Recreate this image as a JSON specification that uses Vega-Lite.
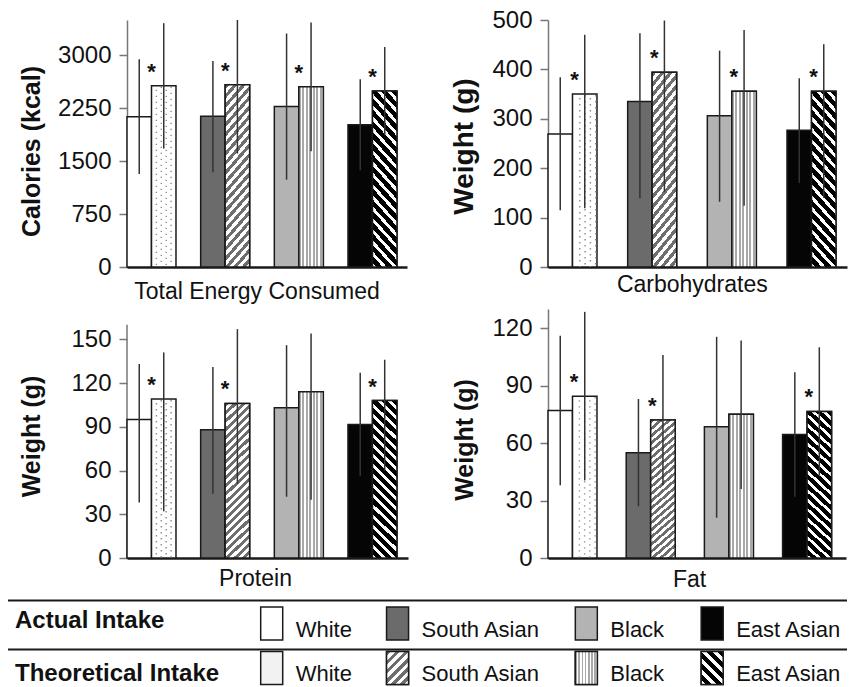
{
"$schema":"https://vega.github.io/schema/vega-lite/v6.json",
"padding":{"left":7,"top":8,"right":0,"bottom":0},
"columns":2,
"spacing":{"row":42,"column":140},
"align":"each",
"bounds":"flush",
"data":{"values":[
{"p":"E","race":"White","intake":"Actual","mean":2130,"low":1318,"high":2943,"sig":false},
{"p":"E","race":"White","intake":"Theoretical","mean":2570,"low":1678,"high":3455,"sig":true},
{"p":"E","race":"South Asian","intake":"Actual","mean":2137,"low":1341,"high":2920,"sig":false},
{"p":"E","race":"South Asian","intake":"Theoretical","mean":2583,"low":1607,"high":3500,"sig":true},
{"p":"E","race":"Black","intake":"Actual","mean":2275,"low":1237,"high":3308,"sig":false},
{"p":"E","race":"Black","intake":"Theoretical","mean":2555,"low":1640,"high":3465,"sig":true},
{"p":"E","race":"East Asian","intake":"Actual","mean":2015,"low":1371,"high":2659,"sig":false},
{"p":"E","race":"East Asian","intake":"Theoretical","mean":2493,"low":1868,"high":3118,"sig":true},
{"p":"C","race":"White","intake":"Actual","mean":269,"low":115,"high":384,"sig":false},
{"p":"C","race":"White","intake":"Theoretical","mean":350,"low":119,"high":470,"sig":true},
{"p":"C","race":"South Asian","intake":"Actual","mean":335,"low":139,"high":473,"sig":false},
{"p":"C","race":"South Asian","intake":"Theoretical","mean":394,"low":152,"high":499,"sig":true},
{"p":"C","race":"Black","intake":"Actual","mean":306,"low":132,"high":438,"sig":false},
{"p":"C","race":"Black","intake":"Theoretical","mean":356,"low":124,"high":480,"sig":true},
{"p":"C","race":"East Asian","intake":"Actual","mean":277,"low":170,"high":382,"sig":false},
{"p":"C","race":"East Asian","intake":"Theoretical","mean":356,"low":140,"high":451,"sig":true},
{"p":"P","race":"White","intake":"Actual","mean":95,"low":38,"high":133,"sig":false},
{"p":"P","race":"White","intake":"Theoretical","mean":109,"low":32,"high":141,"sig":true},
{"p":"P","race":"South Asian","intake":"Actual","mean":88,"low":44,"high":131,"sig":false},
{"p":"P","race":"South Asian","intake":"Theoretical","mean":106,"low":51,"high":157,"sig":true},
{"p":"P","race":"Black","intake":"Actual","mean":103,"low":42,"high":146,"sig":false},
{"p":"P","race":"Black","intake":"Theoretical","mean":114,"low":40,"high":154,"sig":false},
{"p":"P","race":"East Asian","intake":"Actual","mean":91.5,"low":56,"high":127,"sig":false},
{"p":"P","race":"East Asian","intake":"Theoretical","mean":108,"low":60,"high":136,"sig":true},
{"p":"F","race":"White","intake":"Actual","mean":77,"low":38,"high":116,"sig":false},
{"p":"F","race":"White","intake":"Theoretical","mean":84.5,"low":40.5,"high":128.5,"sig":true},
{"p":"F","race":"South Asian","intake":"Actual","mean":55,"low":27,"high":83,"sig":false},
{"p":"F","race":"South Asian","intake":"Theoretical","mean":72,"low":38,"high":106,"sig":true},
{"p":"F","race":"Black","intake":"Actual","mean":68.5,"low":21,"high":115.5,"sig":false},
{"p":"F","race":"Black","intake":"Theoretical","mean":75,"low":36,"high":113.5,"sig":false},
{"p":"F","race":"East Asian","intake":"Actual","mean":64.5,"low":32,"high":97,"sig":false},
{"p":"F","race":"East Asian","intake":"Theoretical","mean":76.5,"low":43,"high":110,"sig":true}
]},
"concat":[
{
"width":280,"height":247,
"transform":[{"filter":"datum.p=='E'"}],
"encoding":{
"x":{"field":"race","type":"nominal","scale":{"domain":["White","South Asian","Black","East Asian"],"paddingInner":0.335,"paddingOuter":0.068,"align":0},"axis":{"title":"Total Energy Consumed","titleX":129.5,"titlePadding":13}},
"y":{"field":"mean","type":"quantitative","scale":{"domain":[0,3500],"nice":false},"axis":{"title":"Calories (kcal)","values":[0,750,1500,2250,3000],"format":"d","titleX":-96,"titleY":131}}
},
"layer":[
{"mark":{"type":"bar","stroke":"#1a1a1a","strokeWidth":1.5},"encoding":{"xOffset":{"field":"intake","type":"nominal","scale":{"domain":["Actual","Theoretical"],"paddingInner":0,"paddingOuter":0}},"fill":{"condition":[{"test":"datum.intake=='Actual' && datum.race=='South Asian'","value":"#6b6b6b"},{"test":"datum.intake=='Actual' && datum.race=='Black'","value":"#b3b3b3"},{"test":"datum.intake=='Actual' && datum.race=='East Asian'","value":"#050505"}],"value":"#ffffff"}}},
{"transform":[{"filter":"datum.intake=='Theoretical' && datum.race=='South Asian'"}],"mark":{"type":"bar","style":"saT","stroke":"#1a1a1a","strokeWidth":1.5},"encoding":{"xOffset":{"field":"intake","type":"nominal","scale":{"domain":["Actual","Theoretical"],"paddingInner":0,"paddingOuter":0}}}},
{"transform":[{"filter":"datum.intake=='Theoretical' && datum.race=='Black'"}],"mark":{"type":"bar","style":"blT","stroke":"#1a1a1a","strokeWidth":1.5},"encoding":{"xOffset":{"field":"intake","type":"nominal","scale":{"domain":["Actual","Theoretical"],"paddingInner":0,"paddingOuter":0}}}},
{"transform":[{"filter":"datum.intake=='Theoretical' && datum.race=='East Asian'"}],"mark":{"type":"bar","style":"eaT","stroke":"#1a1a1a","strokeWidth":1.5},"encoding":{"xOffset":{"field":"intake","type":"nominal","scale":{"domain":["Actual","Theoretical"],"paddingInner":0,"paddingOuter":0}}}},
{"transform":[{"filter":"datum.intake=='Theoretical' && datum.race=='White'"}],"mark":{"type":"rule","stroke":"#8c8c8c","strokeWidth":1.4,"strokeDash":[1.4,4.6],"strokeDashOffset":2},"encoding":{"x":{"field":"race","type":"nominal","bandPosition":0.6,"scale":{"domain":["White","South Asian","Black","East Asian"],"paddingInner":0.335,"paddingOuter":0.068,"align":0}},"y2":{"datum":0}}},
{"transform":[{"filter":"datum.intake=='Theoretical' && datum.race=='White'"}],"mark":{"type":"rule","stroke":"#8c8c8c","strokeWidth":1.4,"strokeDash":[1.4,4.6],"strokeDashOffset":5},"encoding":{"x":{"field":"race","type":"nominal","bandPosition":0.7,"scale":{"domain":["White","South Asian","Black","East Asian"],"paddingInner":0.335,"paddingOuter":0.068,"align":0}},"y2":{"datum":0}}},
{"transform":[{"filter":"datum.intake=='Theoretical' && datum.race=='White'"}],"mark":{"type":"rule","stroke":"#8c8c8c","strokeWidth":1.4,"strokeDash":[1.4,4.6],"strokeDashOffset":2},"encoding":{"x":{"field":"race","type":"nominal","bandPosition":0.8,"scale":{"domain":["White","South Asian","Black","East Asian"],"paddingInner":0.335,"paddingOuter":0.068,"align":0}},"y2":{"datum":0}}},
{"transform":[{"filter":"datum.intake=='Theoretical' && datum.race=='White'"}],"mark":{"type":"rule","stroke":"#8c8c8c","strokeWidth":1.4,"strokeDash":[1.4,4.6],"strokeDashOffset":5},"encoding":{"x":{"field":"race","type":"nominal","bandPosition":0.9,"scale":{"domain":["White","South Asian","Black","East Asian"],"paddingInner":0.335,"paddingOuter":0.068,"align":0}},"y2":{"datum":0}}},
{"mark":{"type":"rule","stroke":"#333333","strokeWidth":1.5},"encoding":{"xOffset":{"field":"intake","type":"nominal","scale":{"domain":["Actual","Theoretical"],"paddingInner":0,"paddingOuter":0}},"y":{"field":"high","type":"quantitative","scale":{"domain":[0,3500],"nice":false},"title":"Calories (kcal)"},"y2":{"field":"low"}}},
{"transform":[{"filter":"datum.sig"}],"mark":{"type":"text","fontSize":22,"fontWeight":"bold","baseline":"alphabetic","dy":-7,"color":"#111111"},"encoding":{"text":{"value":"*"}}}
]
},
{
"width":299,"height":247,
"transform":[{"filter":"datum.p=='C'"}],
"encoding":{
"x":{"field":"race","type":"nominal","scale":{"domain":["White","South Asian","Black","East Asian"],"paddingInner":0.335,"paddingOuter":0.044,"align":0},"axis":{"title":"Carbohydrates","titleX":143.8,"titlePadding":6}},
"y":{"field":"mean","type":"quantitative","scale":{"domain":[0,500],"nice":false},"axis":{"title":"Weight (g)","values":[0,100,200,300,400,500],"format":"d","titleX":-84,"titleY":126,"titleFontSize":28}}
},
"layer":[
{"mark":{"type":"bar","stroke":"#1a1a1a","strokeWidth":1.5},"encoding":{"xOffset":{"field":"intake","type":"nominal","scale":{"domain":["Actual","Theoretical"],"paddingInner":0,"paddingOuter":0}},"fill":{"condition":[{"test":"datum.intake=='Actual' && datum.race=='South Asian'","value":"#6b6b6b"},{"test":"datum.intake=='Actual' && datum.race=='Black'","value":"#b3b3b3"},{"test":"datum.intake=='Actual' && datum.race=='East Asian'","value":"#050505"}],"value":"#ffffff"}}},
{"transform":[{"filter":"datum.intake=='Theoretical' && datum.race=='South Asian'"}],"mark":{"type":"bar","style":"saT","stroke":"#1a1a1a","strokeWidth":1.5},"encoding":{"xOffset":{"field":"intake","type":"nominal","scale":{"domain":["Actual","Theoretical"],"paddingInner":0,"paddingOuter":0}}}},
{"transform":[{"filter":"datum.intake=='Theoretical' && datum.race=='Black'"}],"mark":{"type":"bar","style":"blT","stroke":"#1a1a1a","strokeWidth":1.5},"encoding":{"xOffset":{"field":"intake","type":"nominal","scale":{"domain":["Actual","Theoretical"],"paddingInner":0,"paddingOuter":0}}}},
{"transform":[{"filter":"datum.intake=='Theoretical' && datum.race=='East Asian'"}],"mark":{"type":"bar","style":"eaT","stroke":"#1a1a1a","strokeWidth":1.5},"encoding":{"xOffset":{"field":"intake","type":"nominal","scale":{"domain":["Actual","Theoretical"],"paddingInner":0,"paddingOuter":0}}}},
{"transform":[{"filter":"datum.intake=='Theoretical' && datum.race=='White'"}],"mark":{"type":"rule","stroke":"#8c8c8c","strokeWidth":1.4,"strokeDash":[1.4,4.6],"strokeDashOffset":2},"encoding":{"x":{"field":"race","type":"nominal","bandPosition":0.6,"scale":{"domain":["White","South Asian","Black","East Asian"],"paddingInner":0.335,"paddingOuter":0.044,"align":0}},"y2":{"datum":0}}},
{"transform":[{"filter":"datum.intake=='Theoretical' && datum.race=='White'"}],"mark":{"type":"rule","stroke":"#8c8c8c","strokeWidth":1.4,"strokeDash":[1.4,4.6],"strokeDashOffset":5},"encoding":{"x":{"field":"race","type":"nominal","bandPosition":0.7,"scale":{"domain":["White","South Asian","Black","East Asian"],"paddingInner":0.335,"paddingOuter":0.044,"align":0}},"y2":{"datum":0}}},
{"transform":[{"filter":"datum.intake=='Theoretical' && datum.race=='White'"}],"mark":{"type":"rule","stroke":"#8c8c8c","strokeWidth":1.4,"strokeDash":[1.4,4.6],"strokeDashOffset":2},"encoding":{"x":{"field":"race","type":"nominal","bandPosition":0.8,"scale":{"domain":["White","South Asian","Black","East Asian"],"paddingInner":0.335,"paddingOuter":0.044,"align":0}},"y2":{"datum":0}}},
{"transform":[{"filter":"datum.intake=='Theoretical' && datum.race=='White'"}],"mark":{"type":"rule","stroke":"#8c8c8c","strokeWidth":1.4,"strokeDash":[1.4,4.6],"strokeDashOffset":5},"encoding":{"x":{"field":"race","type":"nominal","bandPosition":0.9,"scale":{"domain":["White","South Asian","Black","East Asian"],"paddingInner":0.335,"paddingOuter":0.044,"align":0}},"y2":{"datum":0}}},
{"mark":{"type":"rule","stroke":"#333333","strokeWidth":1.5},"encoding":{"xOffset":{"field":"intake","type":"nominal","scale":{"domain":["Actual","Theoretical"],"paddingInner":0,"paddingOuter":0}},"y":{"field":"high","type":"quantitative","scale":{"domain":[0,500],"nice":false},"title":"Weight (g)"},"y2":{"field":"low"}}},
{"transform":[{"filter":"datum.sig"}],"mark":{"type":"text","fontSize":22,"fontWeight":"bold","baseline":"alphabetic","dy":-7,"color":"#111111"},"encoding":{"text":{"value":"*"}}}
]
},
{
"width":281,"height":249,
"transform":[{"filter":"datum.p=='P'"}],
"encoding":{
"x":{"field":"race","type":"nominal","scale":{"domain":["White","South Asian","Black","East Asian"],"paddingInner":0.335,"paddingOuter":0.075,"align":0},"axis":{"title":"Protein","titleX":128,"titlePadding":9}},
"y":{"field":"mean","type":"quantitative","scale":{"domain":[0,170.8],"nice":false},"axis":{"title":"Weight (g)","values":[0,30,60,90,120,150],"format":"d","domain":false,"titleX":-96,"titleY":127}}
},
"layer":[
{"transform":[{"filter":"datum.intake=='Actual' && datum.race=='White'"}],"mark":{"type":"rule","stroke":"#777777","strokeWidth":1.5},"encoding":{"x":{"field":"race","type":"nominal","bandPosition":0,"scale":{"domain":["White","South Asian","Black","East Asian"],"paddingInner":0.335,"paddingOuter":0.075,"align":0}},"y":{"datum":0,"type":"quantitative"},"y2":{"datum":160}}},
{"mark":{"type":"bar","stroke":"#1a1a1a","strokeWidth":1.5},"encoding":{"xOffset":{"field":"intake","type":"nominal","scale":{"domain":["Actual","Theoretical"],"paddingInner":0,"paddingOuter":0}},"fill":{"condition":[{"test":"datum.intake=='Actual' && datum.race=='South Asian'","value":"#6b6b6b"},{"test":"datum.intake=='Actual' && datum.race=='Black'","value":"#b3b3b3"},{"test":"datum.intake=='Actual' && datum.race=='East Asian'","value":"#050505"}],"value":"#ffffff"}}},
{"transform":[{"filter":"datum.intake=='Theoretical' && datum.race=='South Asian'"}],"mark":{"type":"bar","style":"saT","stroke":"#1a1a1a","strokeWidth":1.5},"encoding":{"xOffset":{"field":"intake","type":"nominal","scale":{"domain":["Actual","Theoretical"],"paddingInner":0,"paddingOuter":0}}}},
{"transform":[{"filter":"datum.intake=='Theoretical' && datum.race=='Black'"}],"mark":{"type":"bar","style":"blT","stroke":"#1a1a1a","strokeWidth":1.5},"encoding":{"xOffset":{"field":"intake","type":"nominal","scale":{"domain":["Actual","Theoretical"],"paddingInner":0,"paddingOuter":0}}}},
{"transform":[{"filter":"datum.intake=='Theoretical' && datum.race=='East Asian'"}],"mark":{"type":"bar","style":"eaT","stroke":"#1a1a1a","strokeWidth":1.5},"encoding":{"xOffset":{"field":"intake","type":"nominal","scale":{"domain":["Actual","Theoretical"],"paddingInner":0,"paddingOuter":0}}}},
{"transform":[{"filter":"datum.intake=='Theoretical' && datum.race=='White'"}],"mark":{"type":"rule","stroke":"#8c8c8c","strokeWidth":1.4,"strokeDash":[1.4,4.6],"strokeDashOffset":2},"encoding":{"x":{"field":"race","type":"nominal","bandPosition":0.6,"scale":{"domain":["White","South Asian","Black","East Asian"],"paddingInner":0.335,"paddingOuter":0.075,"align":0}},"y2":{"datum":0}}},
{"transform":[{"filter":"datum.intake=='Theoretical' && datum.race=='White'"}],"mark":{"type":"rule","stroke":"#8c8c8c","strokeWidth":1.4,"strokeDash":[1.4,4.6],"strokeDashOffset":5},"encoding":{"x":{"field":"race","type":"nominal","bandPosition":0.7,"scale":{"domain":["White","South Asian","Black","East Asian"],"paddingInner":0.335,"paddingOuter":0.075,"align":0}},"y2":{"datum":0}}},
{"transform":[{"filter":"datum.intake=='Theoretical' && datum.race=='White'"}],"mark":{"type":"rule","stroke":"#8c8c8c","strokeWidth":1.4,"strokeDash":[1.4,4.6],"strokeDashOffset":2},"encoding":{"x":{"field":"race","type":"nominal","bandPosition":0.8,"scale":{"domain":["White","South Asian","Black","East Asian"],"paddingInner":0.335,"paddingOuter":0.075,"align":0}},"y2":{"datum":0}}},
{"transform":[{"filter":"datum.intake=='Theoretical' && datum.race=='White'"}],"mark":{"type":"rule","stroke":"#8c8c8c","strokeWidth":1.4,"strokeDash":[1.4,4.6],"strokeDashOffset":5},"encoding":{"x":{"field":"race","type":"nominal","bandPosition":0.9,"scale":{"domain":["White","South Asian","Black","East Asian"],"paddingInner":0.335,"paddingOuter":0.075,"align":0}},"y2":{"datum":0}}},
{"mark":{"type":"rule","stroke":"#333333","strokeWidth":1.5},"encoding":{"xOffset":{"field":"intake","type":"nominal","scale":{"domain":["Actual","Theoretical"],"paddingInner":0,"paddingOuter":0}},"y":{"field":"high","type":"quantitative","scale":{"domain":[0,170.8],"nice":false},"title":"Weight (g)"},"y2":{"field":"low"}}},
{"transform":[{"filter":"datum.sig"}],"mark":{"type":"text","fontSize":22,"fontWeight":"bold","baseline":"alphabetic","dy":-7,"color":"#111111"},"encoding":{"text":{"value":"*"}}}
]
},
{
"width":298,"height":249,
"transform":[{"filter":"datum.p=='F'"}],
"encoding":{
"x":{"field":"race","type":"nominal","scale":{"domain":["White","South Asian","Black","East Asian"],"paddingInner":0.331,"paddingOuter":0.071,"align":0},"axis":{"title":"Fat","titleX":141,"titlePadding":10}},
"y":{"field":"mean","type":"quantitative","scale":{"domain":[0,130],"nice":false},"axis":{"title":"Weight (g)","values":[0,30,60,90,120],"format":"d","titleX":-84,"titleY":130.5}}
},
"layer":[
{"mark":{"type":"bar","stroke":"#1a1a1a","strokeWidth":1.5},"encoding":{"xOffset":{"field":"intake","type":"nominal","scale":{"domain":["Actual","Theoretical"],"paddingInner":0,"paddingOuter":0}},"fill":{"condition":[{"test":"datum.intake=='Actual' && datum.race=='South Asian'","value":"#6b6b6b"},{"test":"datum.intake=='Actual' && datum.race=='Black'","value":"#b3b3b3"},{"test":"datum.intake=='Actual' && datum.race=='East Asian'","value":"#050505"}],"value":"#ffffff"}}},
{"transform":[{"filter":"datum.intake=='Theoretical' && datum.race=='South Asian'"}],"mark":{"type":"bar","style":"saT","stroke":"#1a1a1a","strokeWidth":1.5},"encoding":{"xOffset":{"field":"intake","type":"nominal","scale":{"domain":["Actual","Theoretical"],"paddingInner":0,"paddingOuter":0}}}},
{"transform":[{"filter":"datum.intake=='Theoretical' && datum.race=='Black'"}],"mark":{"type":"bar","style":"blT","stroke":"#1a1a1a","strokeWidth":1.5},"encoding":{"xOffset":{"field":"intake","type":"nominal","scale":{"domain":["Actual","Theoretical"],"paddingInner":0,"paddingOuter":0}}}},
{"transform":[{"filter":"datum.intake=='Theoretical' && datum.race=='East Asian'"}],"mark":{"type":"bar","style":"eaT","stroke":"#1a1a1a","strokeWidth":1.5},"encoding":{"xOffset":{"field":"intake","type":"nominal","scale":{"domain":["Actual","Theoretical"],"paddingInner":0,"paddingOuter":0}}}},
{"transform":[{"filter":"datum.intake=='Theoretical' && datum.race=='White'"}],"mark":{"type":"rule","stroke":"#8c8c8c","strokeWidth":1.4,"strokeDash":[1.4,4.6],"strokeDashOffset":2},"encoding":{"x":{"field":"race","type":"nominal","bandPosition":0.6,"scale":{"domain":["White","South Asian","Black","East Asian"],"paddingInner":0.331,"paddingOuter":0.071,"align":0}},"y2":{"datum":0}}},
{"transform":[{"filter":"datum.intake=='Theoretical' && datum.race=='White'"}],"mark":{"type":"rule","stroke":"#8c8c8c","strokeWidth":1.4,"strokeDash":[1.4,4.6],"strokeDashOffset":5},"encoding":{"x":{"field":"race","type":"nominal","bandPosition":0.7,"scale":{"domain":["White","South Asian","Black","East Asian"],"paddingInner":0.331,"paddingOuter":0.071,"align":0}},"y2":{"datum":0}}},
{"transform":[{"filter":"datum.intake=='Theoretical' && datum.race=='White'"}],"mark":{"type":"rule","stroke":"#8c8c8c","strokeWidth":1.4,"strokeDash":[1.4,4.6],"strokeDashOffset":2},"encoding":{"x":{"field":"race","type":"nominal","bandPosition":0.8,"scale":{"domain":["White","South Asian","Black","East Asian"],"paddingInner":0.331,"paddingOuter":0.071,"align":0}},"y2":{"datum":0}}},
{"transform":[{"filter":"datum.intake=='Theoretical' && datum.race=='White'"}],"mark":{"type":"rule","stroke":"#8c8c8c","strokeWidth":1.4,"strokeDash":[1.4,4.6],"strokeDashOffset":5},"encoding":{"x":{"field":"race","type":"nominal","bandPosition":0.9,"scale":{"domain":["White","South Asian","Black","East Asian"],"paddingInner":0.331,"paddingOuter":0.071,"align":0}},"y2":{"datum":0}}},
{"mark":{"type":"rule","stroke":"#333333","strokeWidth":1.5},"encoding":{"xOffset":{"field":"intake","type":"nominal","scale":{"domain":["Actual","Theoretical"],"paddingInner":0,"paddingOuter":0}},"y":{"field":"high","type":"quantitative","scale":{"domain":[0,130],"nice":false},"title":"Weight (g)"},"y2":{"field":"low"}}},
{"transform":[{"filter":"datum.sig"}],"mark":{"type":"text","fontSize":22,"fontWeight":"bold","baseline":"alphabetic","dy":-7,"color":"#111111"},"encoding":{"text":{"value":"*"}}}
]
},
{
"width":280,"height":85,
"data":{"values":[
{"row":"Actual Intake","race":"White","intake":"Actual"},
{"row":"Actual Intake","race":"South Asian","intake":"Actual"},
{"row":"Actual Intake","race":"Black","intake":"Actual"},
{"row":"Actual Intake","race":"East Asian","intake":"Actual"},
{"row":"Theoretical Intake","race":"White","intake":"Theoretical"},
{"row":"Theoretical Intake","race":"South Asian","intake":"Theoretical"},
{"row":"Theoretical Intake","race":"Black","intake":"Theoretical"},
{"row":"Theoretical Intake","race":"East Asian","intake":"Theoretical"}
]},
"layer":[
{"transform":[{"filter":"datum.race=='White'"}],"mark":{"type":"rule","stroke":"#1a1a1a","strokeWidth":2},"encoding":{"x":{"datum":"__start","type":"nominal","scale":{"type":"point","domain":["__start","_1","_2","_3","_4","_5","_6","_7","_8","_9","_10","_11","White","_13","_14","_15","_16","_17","South Asian","_19","_20","_21","_22","_23","_24","_25","_26","Black","_28","_29","_30","_31","_32","East Asian","_34","_35","_36","_37","_38","_39","__end"],"range":[-119,720],"padding":0},"axis":null},"x2":{"datum":"__end"},"y":{"field":"row","type":"nominal","scale":{"type":"point","domain":["Actual Intake","Theoretical Intake"],"range":[0.5,49.5],"padding":0},"axis":null}}},
{"transform":[{"filter":"datum.race=='White'"}],"mark":{"type":"text","align":"left","baseline":"middle","dx":7,"fontSize":24,"fontWeight":"bold","color":"#111111"},"encoding":{"x":{"datum":"__start","type":"nominal","scale":{"type":"point","domain":["__start","_1","_2","_3","_4","_5","_6","_7","_8","_9","_10","_11","White","_13","_14","_15","_16","_17","South Asian","_19","_20","_21","_22","_23","_24","_25","_26","Black","_28","_29","_30","_31","_32","East Asian","_34","_35","_36","_37","_38","_39","__end"],"range":[-119,720],"padding":0},"axis":null},"y":{"field":"row","type":"nominal","scale":{"type":"point","domain":["Actual Intake","Theoretical Intake"],"range":[21.3,73.5],"padding":0},"axis":null},"text":{"field":"row"}}},
{"mark":{"type":"point","shape":"M-0.667,-1L0.667,-1L0.667,1L-0.667,1Z","size":1089,"filled":true,"opacity":1,"stroke":"#1a1a1a","strokeWidth":1.5,"xOffset":12},"encoding":{"x":{"field":"race","type":"nominal","scale":{"type":"point","domain":["__start","_1","_2","_3","_4","_5","_6","_7","_8","_9","_10","_11","White","_13","_14","_15","_16","_17","South Asian","_19","_20","_21","_22","_23","_24","_25","_26","Black","_28","_29","_30","_31","_32","East Asian","_34","_35","_36","_37","_38","_39","__end"],"range":[-119,720],"padding":0},"axis":null},"y":{"field":"row","type":"nominal","scale":{"type":"point","domain":["Actual Intake","Theoretical Intake"],"range":[23.5,68],"padding":0},"axis":null},"fill":{"condition":[{"test":"datum.intake=='Actual' && datum.race=='White'","value":"#ffffff"},{"test":"datum.intake=='Actual' && datum.race=='South Asian'","value":"#6b6b6b"},{"test":"datum.intake=='Actual' && datum.race=='Black'","value":"#b3b3b3"},{"test":"datum.intake=='Actual' && datum.race=='East Asian'","value":"#050505"}],"value":"#f2f2f2"}}},
{"transform":[{"filter":"datum.intake=='Theoretical' && datum.race=='South Asian'"}],"mark":{"type":"point","style":"saL","shape":"M-0.667,-1L0.667,-1L0.667,1L-0.667,1Z","size":1089,"filled":true,"opacity":1,"stroke":"#1a1a1a","strokeWidth":1.5,"xOffset":12},"encoding":{"x":{"field":"race","type":"nominal","scale":{"type":"point","domain":["__start","_1","_2","_3","_4","_5","_6","_7","_8","_9","_10","_11","White","_13","_14","_15","_16","_17","South Asian","_19","_20","_21","_22","_23","_24","_25","_26","Black","_28","_29","_30","_31","_32","East Asian","_34","_35","_36","_37","_38","_39","__end"],"range":[-119,720],"padding":0},"axis":null},"y":{"field":"row","type":"nominal","scale":{"type":"point","domain":["Actual Intake","Theoretical Intake"],"range":[23.5,68],"padding":0},"axis":null}}},
{"transform":[{"filter":"datum.intake=='Theoretical' && datum.race=='Black'"}],"mark":{"type":"point","style":"blT","shape":"M-0.667,-1L0.667,-1L0.667,1L-0.667,1Z","size":1089,"filled":true,"opacity":1,"stroke":"#1a1a1a","strokeWidth":1.5,"xOffset":12},"encoding":{"x":{"field":"race","type":"nominal","scale":{"type":"point","domain":["__start","_1","_2","_3","_4","_5","_6","_7","_8","_9","_10","_11","White","_13","_14","_15","_16","_17","South Asian","_19","_20","_21","_22","_23","_24","_25","_26","Black","_28","_29","_30","_31","_32","East Asian","_34","_35","_36","_37","_38","_39","__end"],"range":[-119,720],"padding":0},"axis":null},"y":{"field":"row","type":"nominal","scale":{"type":"point","domain":["Actual Intake","Theoretical Intake"],"range":[23.5,68],"padding":0},"axis":null}}},
{"transform":[{"filter":"datum.intake=='Theoretical' && datum.race=='East Asian'"}],"mark":{"type":"point","style":"eaL","shape":"M-0.667,-1L0.667,-1L0.667,1L-0.667,1Z","size":1089,"filled":true,"opacity":1,"stroke":"#1a1a1a","strokeWidth":1.5,"xOffset":12},"encoding":{"x":{"field":"race","type":"nominal","scale":{"type":"point","domain":["__start","_1","_2","_3","_4","_5","_6","_7","_8","_9","_10","_11","White","_13","_14","_15","_16","_17","South Asian","_19","_20","_21","_22","_23","_24","_25","_26","Black","_28","_29","_30","_31","_32","East Asian","_34","_35","_36","_37","_38","_39","__end"],"range":[-119,720],"padding":0},"axis":null},"y":{"field":"row","type":"nominal","scale":{"type":"point","domain":["Actual Intake","Theoretical Intake"],"range":[23.5,68],"padding":0},"axis":null}}},
{"mark":{"type":"text","align":"left","baseline":"middle","dx":36,"fontSize":22,"color":"#111111"},"encoding":{"x":{"field":"race","type":"nominal","scale":{"type":"point","domain":["__start","_1","_2","_3","_4","_5","_6","_7","_8","_9","_10","_11","White","_13","_14","_15","_16","_17","South Asian","_19","_20","_21","_22","_23","_24","_25","_26","Black","_28","_29","_30","_31","_32","East Asian","_34","_35","_36","_37","_38","_39","__end"],"range":[-119,720],"padding":0},"axis":null},"y":{"field":"row","type":"nominal","scale":{"type":"point","domain":["Actual Intake","Theoretical Intake"],"range":[29.5,74.3],"padding":0},"axis":null},"text":{"field":"race"}}}
],
"resolve":{"scale":{"y":"independent"}}
}
],
"config":{
"view":{"stroke":null},
"font":"Liberation Sans",
"axis":{"grid":false,"labelFont":"Liberation Sans","titleFont":"Liberation Sans","labelColor":"#111111","titleColor":"#111111"},
"axisX":{"labels":false,"ticks":false,"domainColor":"#1a1a1a","domainWidth":2.5,"titleFontSize":23,"titleFontWeight":"normal","titleAlign":"center","titleBaseline":"top"},
"axisY":{"tickSize":8,"tickWidth":1.5,"tickColor":"#777777","domainColor":"#777777","domainWidth":1.5,"labelFontSize":24,"labelPadding":8,"titleFontSize":25,"titleFontWeight":"bold","titleAngle":270,"titleAlign":"center","titleBaseline":"middle"},
"style":{
"saT":{"color":{"gradient":"linear","x1":0,"y1":0,"x2":0.1734,"y2":1.1272,"stops":[{"offset":0,"color":"#6e6e6e"},{"offset":0.0227,"color":"#6e6e6e"},{"offset":0.0227,"color":"#fff"},{"offset":0.0455,"color":"#fff"},{"offset":0.0455,"color":"#6e6e6e"},{"offset":0.0682,"color":"#6e6e6e"},{"offset":0.0682,"color":"#fff"},{"offset":0.0909,"color":"#fff"},{"offset":0.0909,"color":"#6e6e6e"},{"offset":0.1136,"color":"#6e6e6e"},{"offset":0.1136,"color":"#fff"},{"offset":0.1364,"color":"#fff"},{"offset":0.1364,"color":"#6e6e6e"},{"offset":0.1591,"color":"#6e6e6e"},{"offset":0.1591,"color":"#fff"},{"offset":0.1818,"color":"#fff"},{"offset":0.1818,"color":"#6e6e6e"},{"offset":0.2045,"color":"#6e6e6e"},{"offset":0.2045,"color":"#fff"},{"offset":0.2273,"color":"#fff"},{"offset":0.2273,"color":"#6e6e6e"},{"offset":0.25,"color":"#6e6e6e"},{"offset":0.25,"color":"#fff"},{"offset":0.2727,"color":"#fff"},{"offset":0.2727,"color":"#6e6e6e"},{"offset":0.2955,"color":"#6e6e6e"},{"offset":0.2955,"color":"#fff"},{"offset":0.3182,"color":"#fff"},{"offset":0.3182,"color":"#6e6e6e"},{"offset":0.3409,"color":"#6e6e6e"},{"offset":0.3409,"color":"#fff"},{"offset":0.3636,"color":"#fff"},{"offset":0.3636,"color":"#6e6e6e"},{"offset":0.3864,"color":"#6e6e6e"},{"offset":0.3864,"color":"#fff"},{"offset":0.4091,"color":"#fff"},{"offset":0.4091,"color":"#6e6e6e"},{"offset":0.4318,"color":"#6e6e6e"},{"offset":0.4318,"color":"#fff"},{"offset":0.4545,"color":"#fff"},{"offset":0.4545,"color":"#6e6e6e"},{"offset":0.4773,"color":"#6e6e6e"},{"offset":0.4773,"color":"#fff"},{"offset":0.5,"color":"#fff"},{"offset":0.5,"color":"#6e6e6e"},{"offset":0.5227,"color":"#6e6e6e"},{"offset":0.5227,"color":"#fff"},{"offset":0.5455,"color":"#fff"},{"offset":0.5455,"color":"#6e6e6e"},{"offset":0.5682,"color":"#6e6e6e"},{"offset":0.5682,"color":"#fff"},{"offset":0.5909,"color":"#fff"},{"offset":0.5909,"color":"#6e6e6e"},{"offset":0.6136,"color":"#6e6e6e"},{"offset":0.6136,"color":"#fff"},{"offset":0.6364,"color":"#fff"},{"offset":0.6364,"color":"#6e6e6e"},{"offset":0.6591,"color":"#6e6e6e"},{"offset":0.6591,"color":"#fff"},{"offset":0.6818,"color":"#fff"},{"offset":0.6818,"color":"#6e6e6e"},{"offset":0.7045,"color":"#6e6e6e"},{"offset":0.7045,"color":"#fff"},{"offset":0.7273,"color":"#fff"},{"offset":0.7273,"color":"#6e6e6e"},{"offset":0.75,"color":"#6e6e6e"},{"offset":0.75,"color":"#fff"},{"offset":0.7727,"color":"#fff"},{"offset":0.7727,"color":"#6e6e6e"},{"offset":0.7955,"color":"#6e6e6e"},{"offset":0.7955,"color":"#fff"},{"offset":0.8182,"color":"#fff"},{"offset":0.8182,"color":"#6e6e6e"},{"offset":0.8409,"color":"#6e6e6e"},{"offset":0.8409,"color":"#fff"},{"offset":0.8636,"color":"#fff"},{"offset":0.8636,"color":"#6e6e6e"},{"offset":0.8864,"color":"#6e6e6e"},{"offset":0.8864,"color":"#fff"},{"offset":0.9091,"color":"#fff"},{"offset":0.9091,"color":"#6e6e6e"},{"offset":0.9318,"color":"#6e6e6e"},{"offset":0.9318,"color":"#fff"},{"offset":0.9545,"color":"#fff"},{"offset":0.9545,"color":"#6e6e6e"},{"offset":0.9773,"color":"#6e6e6e"},{"offset":0.9773,"color":"#fff"},{"offset":1,"color":"#fff"}]}},
"eaT":{"color":{"gradient":"linear","x1":1,"y1":0,"x2":0.8266,"y2":1.1272,"stops":[{"offset":0,"color":"#000"},{"offset":0.0333,"color":"#000"},{"offset":0.0333,"color":"#fff"},{"offset":0.0556,"color":"#fff"},{"offset":0.0556,"color":"#000"},{"offset":0.0889,"color":"#000"},{"offset":0.0889,"color":"#fff"},{"offset":0.1111,"color":"#fff"},{"offset":0.1111,"color":"#000"},{"offset":0.1444,"color":"#000"},{"offset":0.1444,"color":"#fff"},{"offset":0.1667,"color":"#fff"},{"offset":0.1667,"color":"#000"},{"offset":0.2,"color":"#000"},{"offset":0.2,"color":"#fff"},{"offset":0.2222,"color":"#fff"},{"offset":0.2222,"color":"#000"},{"offset":0.2556,"color":"#000"},{"offset":0.2556,"color":"#fff"},{"offset":0.2778,"color":"#fff"},{"offset":0.2778,"color":"#000"},{"offset":0.3111,"color":"#000"},{"offset":0.3111,"color":"#fff"},{"offset":0.3333,"color":"#fff"},{"offset":0.3333,"color":"#000"},{"offset":0.3667,"color":"#000"},{"offset":0.3667,"color":"#fff"},{"offset":0.3889,"color":"#fff"},{"offset":0.3889,"color":"#000"},{"offset":0.4222,"color":"#000"},{"offset":0.4222,"color":"#fff"},{"offset":0.4444,"color":"#fff"},{"offset":0.4444,"color":"#000"},{"offset":0.4778,"color":"#000"},{"offset":0.4778,"color":"#fff"},{"offset":0.5,"color":"#fff"},{"offset":0.5,"color":"#000"},{"offset":0.5333,"color":"#000"},{"offset":0.5333,"color":"#fff"},{"offset":0.5556,"color":"#fff"},{"offset":0.5556,"color":"#000"},{"offset":0.5889,"color":"#000"},{"offset":0.5889,"color":"#fff"},{"offset":0.6111,"color":"#fff"},{"offset":0.6111,"color":"#000"},{"offset":0.6444,"color":"#000"},{"offset":0.6444,"color":"#fff"},{"offset":0.6667,"color":"#fff"},{"offset":0.6667,"color":"#000"},{"offset":0.7,"color":"#000"},{"offset":0.7,"color":"#fff"},{"offset":0.7222,"color":"#fff"},{"offset":0.7222,"color":"#000"},{"offset":0.7556,"color":"#000"},{"offset":0.7556,"color":"#fff"},{"offset":0.7778,"color":"#fff"},{"offset":0.7778,"color":"#000"},{"offset":0.8111,"color":"#000"},{"offset":0.8111,"color":"#fff"},{"offset":0.8333,"color":"#fff"},{"offset":0.8333,"color":"#000"},{"offset":0.8667,"color":"#000"},{"offset":0.8667,"color":"#fff"},{"offset":0.8889,"color":"#fff"},{"offset":0.8889,"color":"#000"},{"offset":0.9222,"color":"#000"},{"offset":0.9222,"color":"#fff"},{"offset":0.9444,"color":"#fff"},{"offset":0.9444,"color":"#000"},{"offset":0.9778,"color":"#000"},{"offset":0.9778,"color":"#fff"},{"offset":1,"color":"#fff"}]}},
"blT":{"color":{"gradient":"linear","x1":0,"y1":0,"x2":1,"y2":0,"stops":[{"offset":0,"color":"#a8a8a8"},{"offset":0.0786,"color":"#a8a8a8"},{"offset":0.0786,"color":"#fff"},{"offset":0.1429,"color":"#fff"},{"offset":0.1429,"color":"#a8a8a8"},{"offset":0.2214,"color":"#a8a8a8"},{"offset":0.2214,"color":"#fff"},{"offset":0.2857,"color":"#fff"},{"offset":0.2857,"color":"#a8a8a8"},{"offset":0.3643,"color":"#a8a8a8"},{"offset":0.3643,"color":"#fff"},{"offset":0.4286,"color":"#fff"},{"offset":0.4286,"color":"#a8a8a8"},{"offset":0.5071,"color":"#a8a8a8"},{"offset":0.5071,"color":"#fff"},{"offset":0.5714,"color":"#fff"},{"offset":0.5714,"color":"#a8a8a8"},{"offset":0.65,"color":"#a8a8a8"},{"offset":0.65,"color":"#fff"},{"offset":0.7143,"color":"#fff"},{"offset":0.7143,"color":"#a8a8a8"},{"offset":0.7929,"color":"#a8a8a8"},{"offset":0.7929,"color":"#fff"},{"offset":0.8571,"color":"#fff"},{"offset":0.8571,"color":"#a8a8a8"},{"offset":0.9357,"color":"#a8a8a8"},{"offset":0.9357,"color":"#fff"},{"offset":1,"color":"#fff"}]}},
"saL":{"color":{"gradient":"linear","x1":0,"y1":0,"x2":0.769,"y2":1.154,"stops":[{"offset":0,"color":"#6e6e6e"},{"offset":0.0833,"color":"#6e6e6e"},{"offset":0.0833,"color":"#fff"},{"offset":0.1667,"color":"#fff"},{"offset":0.1667,"color":"#6e6e6e"},{"offset":0.25,"color":"#6e6e6e"},{"offset":0.25,"color":"#fff"},{"offset":0.3333,"color":"#fff"},{"offset":0.3333,"color":"#6e6e6e"},{"offset":0.4167,"color":"#6e6e6e"},{"offset":0.4167,"color":"#fff"},{"offset":0.5,"color":"#fff"},{"offset":0.5,"color":"#6e6e6e"},{"offset":0.5833,"color":"#6e6e6e"},{"offset":0.5833,"color":"#fff"},{"offset":0.6667,"color":"#fff"},{"offset":0.6667,"color":"#6e6e6e"},{"offset":0.75,"color":"#6e6e6e"},{"offset":0.75,"color":"#fff"},{"offset":0.8333,"color":"#fff"},{"offset":0.8333,"color":"#6e6e6e"},{"offset":0.9167,"color":"#6e6e6e"},{"offset":0.9167,"color":"#fff"},{"offset":1,"color":"#fff"}]}},
"eaL":{"color":{"gradient":"linear","x1":1,"y1":0,"x2":0.231,"y2":1.154,"stops":[{"offset":0,"color":"#000"},{"offset":0.12,"color":"#000"},{"offset":0.12,"color":"#fff"},{"offset":0.2,"color":"#fff"},{"offset":0.2,"color":"#000"},{"offset":0.32,"color":"#000"},{"offset":0.32,"color":"#fff"},{"offset":0.4,"color":"#fff"},{"offset":0.4,"color":"#000"},{"offset":0.52,"color":"#000"},{"offset":0.52,"color":"#fff"},{"offset":0.6,"color":"#fff"},{"offset":0.6,"color":"#000"},{"offset":0.72,"color":"#000"},{"offset":0.72,"color":"#fff"},{"offset":0.8,"color":"#fff"},{"offset":0.8,"color":"#000"},{"offset":0.92,"color":"#000"},{"offset":0.92,"color":"#fff"},{"offset":1,"color":"#fff"}]}}
}
}
}
